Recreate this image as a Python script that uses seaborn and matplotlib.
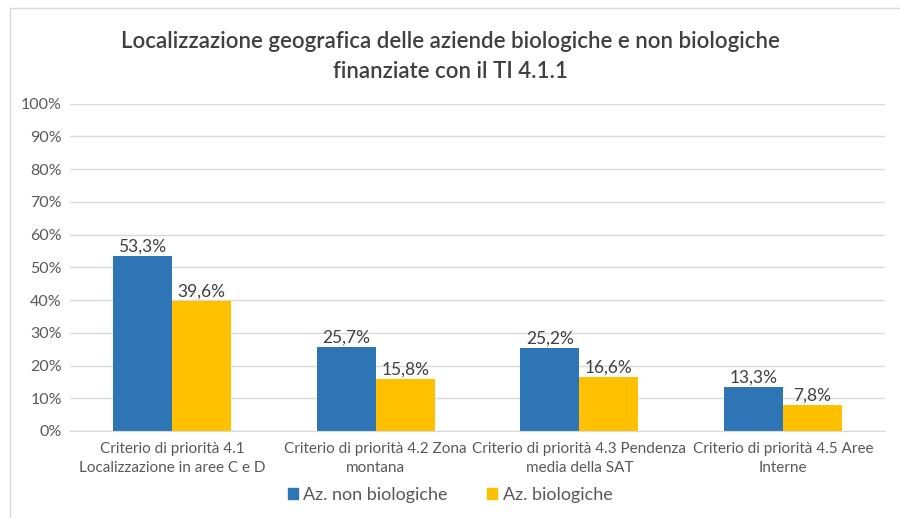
import numpy as np
import pandas as pd
import matplotlib
matplotlib.use("Agg")
import matplotlib.pyplot as plt
import seaborn as sns

# Chart data
categories = [
    "Criterio di priorità 4.1\nLocalizzazione in aree C e D",
    "Criterio di priorità 4.2 Zona\nmontana",
    "Criterio di priorità 4.3 Pendenza\nmedia della SAT",
    "Criterio di priorità 4.5 Aree\nInterne",
]
non_bio = [53.3, 25.7, 25.2, 13.3]
bio = [39.6, 15.8, 16.6, 7.8]
series_names = ["Az. non biologiche", "Az. biologiche"]
colors = ["#2E75B6", "#FFC000"]

df = pd.DataFrame({
    "Categoria": categories * 2,
    "Valore": non_bio + bio,
    "Serie": [series_names[0]] * 4 + [series_names[1]] * 4,
})

sns.set_style("white")
plt.rcParams["font.family"] = ["Lato", "DejaVu Sans"]
text_col = "#595959"

fig = plt.figure(figsize=(9, 5.18), dpi=100)
ax = fig.add_axes([0.078, 0.168, 0.905, 0.632])

sns.barplot(data=df, x="Categoria", y="Valore", hue="Serie", palette=colors,
            width=0.58, saturation=1, linewidth=0, ax=ax, legend=False)

for cont in ax.containers:
    ax.bar_label(cont, labels=[f"{v:.1f}%".replace(".", ",") for v in cont.datavalues],
                 fontsize=12.5, color="#404040", padding=1)

ax.set_ylim(0, 100)
ax.set_yticks(np.arange(0, 101, 10))
ax.set_yticklabels([f"{t}%" for t in range(0, 101, 10)], fontsize=11.5, color=text_col)
ax.tick_params(axis="x", labelsize=11, labelcolor=text_col, length=0, pad=8)
ax.tick_params(axis="y", length=0, pad=6)
for lbl in ax.get_xticklabels():
    lbl.set_linespacing(1.45)
ax.set_xlabel("")
ax.set_ylabel("")
ax.yaxis.grid(True, color="#D9D9D9", linewidth=1)
ax.set_axisbelow(True)
for s in ["top", "right", "left"]:
    ax.spines[s].set_visible(False)
ax.spines["bottom"].set_color("#D9D9D9")

fig.suptitle("Localizzazione geografica delle aziende biologiche e non biologiche\nfinanziate con il TI 4.1.1",
             y=0.94, fontsize=16, color="#404040", linespacing=1.5,
             fontweight="semibold")

handles = [plt.Rectangle((0, 0), 1, 1, color=c) for c in colors]
fig.legend(handles, series_names, loc="center", bbox_to_anchor=(0.5, 0.045), ncol=2,
           frameon=False, fontsize=13, handlelength=0.55, handleheight=0.55,
           handletextpad=0.3, columnspacing=2.2, labelcolor=text_col)

# Outer chart border
fig.add_artist(plt.Rectangle((0.011, -0.01), 1.0, 0.995, transform=fig.transFigure,
                             fill=False, edgecolor="#D9D9D9", linewidth=1))

fig.savefig("out.png", dpi=100, facecolor="white")
